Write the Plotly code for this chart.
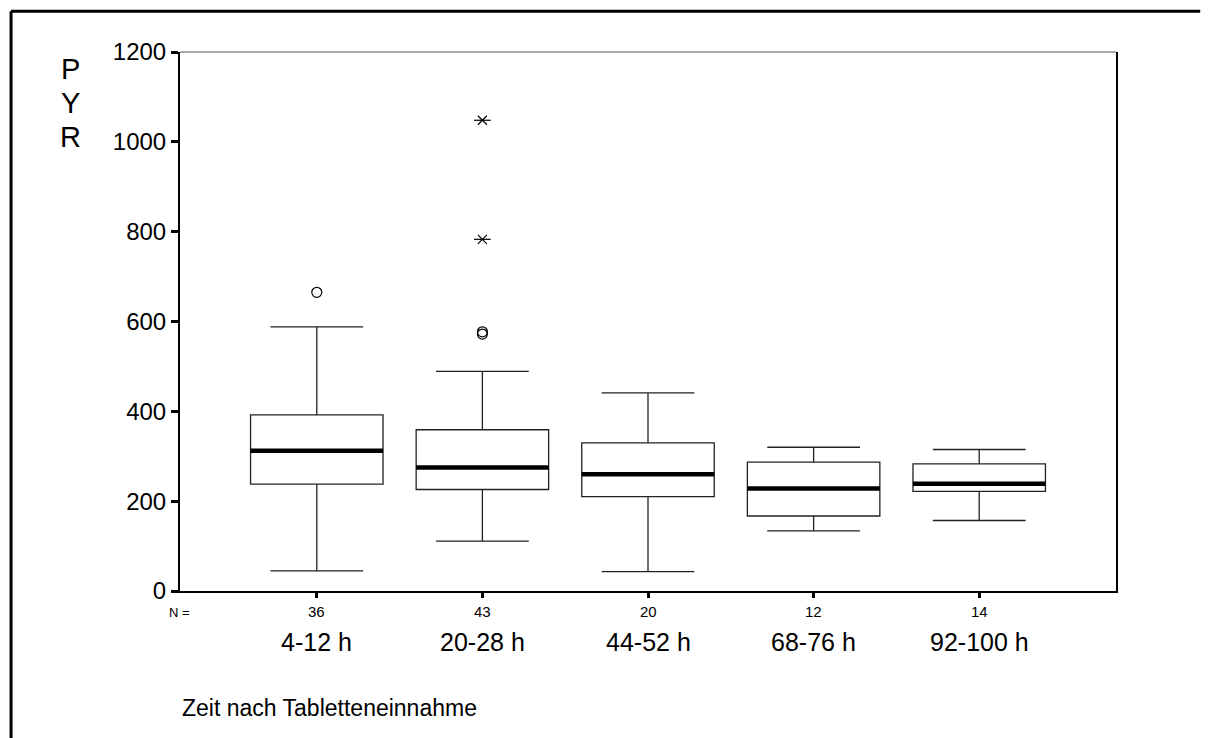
import plotly.graph_objects as go

categories = ["4-12 h", "20-28 h", "44-52 h", "68-76 h", "92-100 h"]
n_counts = [36, 43, 20, 12, 14]
q1 = [238, 226, 210, 167, 222]
median = [312, 275, 260, 228, 239]
q3 = [392, 359, 330, 287, 283]
lower_whisker = [45, 111, 43, 134, 157]
upper_whisker = [588, 489, 441, 320, 315]
outlier_group = [0, 1, 1]
outlier_value = [665, 572, 577]
extreme_group = [1, 1]
extreme_value = [1048, 783]

y_ticks = [0, 200, 400, 600, 800, 1000, 1200]
y_title_letters = ["P", "Y", "R"]

FONT = "Liberation Sans, Arial, sans-serif"
pos = list(range(len(categories)))
half = 0.4

fig = go.Figure()
fig.add_trace(go.Box(
    x=pos, q1=q1, median=median, q3=q3,
    lowerfence=lower_whisker, upperfence=upper_whisker,
    width=0.8, whiskerwidth=0.7, boxpoints=False,
    fillcolor="white", line=dict(color="#222222", width=1.3),
    showlegend=False, hoverinfo="skip",
))
mx, my = [], []
for p, m in zip(pos, median):
    mx += [p - half, p + half, None]
    my += [m, m, None]
fig.add_trace(go.Scatter(x=mx, y=my, mode="lines",
                         line=dict(color="black", width=4.5),
                         showlegend=False, hoverinfo="skip"))
fig.add_trace(go.Scatter(x=outlier_group, y=outlier_value, mode="markers",
                         marker=dict(symbol="circle-open", size=10, color="black",
                                     line=dict(width=1.2, color="black")),
                         showlegend=False, hoverinfo="skip"))
for sym, sz in (("x-thin-open", 9), ("line-ew-open", 12)):
    fig.add_trace(go.Scatter(x=extreme_group, y=extreme_value, mode="markers",
                             marker=dict(symbol=sym, size=sz, color="black",
                                         line=dict(width=1.2, color="black")),
                             showlegend=False, hoverinfo="skip"))

annotations = []
for p, c, n in zip(pos, categories, n_counts):
    annotations.append(dict(x=p, y=0, xref="x", yref="paper", text=str(n),
                            showarrow=False, yanchor="middle", yshift=-20,
                            font=dict(family=FONT, size=15, color="black")))
    annotations.append(dict(x=p, y=0, xref="x", yref="paper", text=c,
                            showarrow=False, yanchor="middle", yshift=-51,
                            font=dict(family=FONT, size=25, color="black")))
annotations.append(dict(x=0, y=0, xref="paper", yref="paper", text="N =",
                        showarrow=False, xanchor="center", yanchor="middle",
                        xshift=-1, yshift=-21,
                        font=dict(family=FONT, size=13, color="black")))
annotations.append(dict(x=0, y=0, xref="paper", yref="paper",
                        text="Zeit nach Tabletteneinnahme",
                        showarrow=False, xanchor="left", yanchor="middle",
                        yshift=-117,
                        font=dict(family=FONT, size=23, color="black")))
for i, letter in enumerate(y_title_letters):
    annotations.append(dict(x=0, y=1, xref="paper", yref="paper",
                            text=letter, showarrow=False,
                            xanchor="center", yanchor="middle",
                            xshift=-110, yshift=-17 - 34 * i,
                            font=dict(family=FONT, size=29, color="black")))

fig.update_layout(
    width=1221, height=738,
    margin=dict(l=180, r=105, t=52, b=147),
    paper_bgcolor="white", plot_bgcolor="white",
    font=dict(family=FONT, color="black"),
    annotations=annotations,
    shapes=[
        dict(type="line", xref="paper", yref="paper", x0=0, x1=1, y0=1, y1=1,
             line=dict(color="#555555", width=1)),
        dict(type="line", xref="paper", yref="paper",
             x0=-0.1805, x1=-0.1805, y0=-0.4, y1=1.0755,
             line=dict(color="black", width=3)),
        dict(type="line", xref="paper", yref="paper",
             x0=-0.1805, x1=1.09, y0=1.0755, y1=1.0755,
             line=dict(color="black", width=3)),
    ],
)
fig.update_xaxes(range=[-0.826, 4.826], tickvals=pos, showticklabels=False,
                 ticks="outside", ticklen=5, tickwidth=3, tickcolor="black",
                 showgrid=False, zeroline=False,
                 showline=True, linecolor="black", linewidth=2)
fig.update_yaxes(range=[0, 1200], tickvals=y_ticks,
                 ticks="outside", ticklen=7, tickwidth=3, tickcolor="black",
                 tickfont=dict(family=FONT, size=24, color="black"),
                 showgrid=False, zeroline=False,
                 showline=True, linecolor="black", linewidth=2, mirror=True)

fig.write_html(
    "out.html",
    config={"displayModeBar": False},
    post_script=("document.documentElement.style.overflow='hidden';"
                 "document.body.style.overflow='hidden';"
                 "document.body.style.margin='0';"),
)
